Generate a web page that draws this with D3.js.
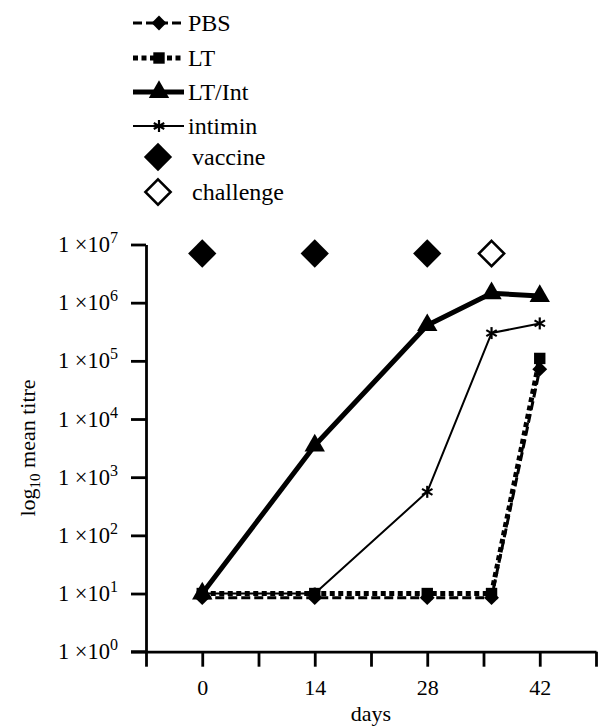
<!DOCTYPE html>
<html><head><meta charset="utf-8">
<script src="https://cdn.jsdelivr.net/npm/d3@7"></script>
<style>body{margin:0;background:#fff}svg{display:block}svg text{font-family:"Liberation Serif","DejaVu Serif",serif !important;fill:#000}</style>
</head><body>
<svg id="c" width="598" height="727"></svg>
<script>
const days = [0, 14, 28, 36, 42];
const pbs = [8.5, 8.5, 8.5, 8.5, 7.2e4];
const lt = [10, 10, 10, 10, 1.1e5];
const ltInt = [10, 3.5e3, 4.1e5, 1.45e6, 1.3e6];
const intimin = [10, 10, 560, 3.0e5, 4.4e5];
const vaccineDays = [0, 14, 28];
const challengeDays = [36];
const eventLevel = 7e6;
const xTicks = [-7, 0, 7, 14, 21, 28, 35, 42, 49];
const xTickLabels = ["", "0", "", "14", "", "28", "", "42", ""];
const yTicks = [1, 10, 100, 1e3, 1e4, 1e5, 1e6, 1e7];
const legendNames = ["PBS", "LT", "LT/Int", "intimin", "vaccine", "challenge"];

const FONT = "Liberation Serif";
const svg = d3.select("#c");
const x = d3.scaleLinear().domain([-7, 49]).range([146, 596]);
const y = d3.scaleLog().domain([1, 1e7]).range([651.7, 244.5]);

const diamondType = { draw(ctx, size) { const r = Math.sqrt(size / 2);
  ctx.moveTo(0, -r); ctx.lineTo(r, 0); ctx.lineTo(0, r); ctx.lineTo(-r, 0); ctx.closePath(); } };

// axes
const xAxis = svg.append("g").attr("transform", "translate(0,651.7)")
  .call(d3.axisBottom(x).tickValues(xTicks).tickSize(15).tickSizeOuter(0).tickFormat((d,i)=>xTickLabels[i]));
const yAxis = svg.append("g").attr("transform", "translate(146,0)")
  .call(d3.axisLeft(y).tickValues(yTicks).tickSize(15).tickSizeOuter(0).tickFormat(""));
[xAxis, yAxis].forEach(a => {
  a.attr("font-family", FONT);
  a.select(".domain").attr("stroke", "#000").attr("stroke-width", 2.8);
  a.selectAll(".tick line").attr("stroke", "#000").attr("stroke-width", 2.8);
});
xAxis.selectAll(".tick text").attr("font-size", 22).attr("y", 0).attr("dy", 43).attr("fill","#000");
svg.append("line").attr("x1", 131).attr("x2", 146).attr("y1", y(1)).attr("y2", y(1)).attr("stroke","#000").attr("stroke-width",2.8);

// y tick labels with superscripts
yTicks.forEach(v => {
  const t = svg.append("text").attr("x", 118).attr("y", y(v) + 7.5).attr("text-anchor", "end")
    .attr("font-size", 22.5).attr("font-family", FONT);
  t.append("tspan").text("1 \u00d710");
  t.append("tspan").attr("font-size", 16).attr("dy", -9).text(Math.round(Math.log10(v)));
});

// axis titles
svg.append("text").attr("x", x(21)).attr("y", 721).attr("text-anchor", "middle").attr("font-size", 22)
  .attr("font-family", FONT).text("days");
const yt = svg.append("text").attr("transform", "translate(35,448) rotate(-90)").attr("text-anchor", "middle")
  .attr("font-size", 22).attr("font-family", FONT);
yt.append("tspan").text("log");
yt.append("tspan").attr("font-size", 15).attr("dy", 5).text("10");
yt.append("tspan").attr("dy", -5).text(" mean titre");

const line = d3.line().x(d => x(d[0])).y(d => y(d[1]));
const series = [
  {name: "LT/Int", vals: ltInt, w: 5, dash: null, sym: d3.symbolTriangle, size: 180},
  {name: "intimin", vals: intimin, w: 2, dash: null, sym: "asterisk", size: 12},
  {name: "PBS", vals: pbs, w: 3, dash: "9,4", sym: diamondType, size: 110},
  {name: "LT", vals: lt, w: 5, dash: "5,3.5", sym: d3.symbolSquare, size: 130}
];
series.forEach(s => {
  svg.append("path").datum(days.map((d,i)=>[d, s.vals[i]])).attr("d", line)
    .attr("fill","none").attr("stroke","#000").attr("stroke-width", s.w)
    .attr("stroke-dasharray", s.dash).attr("stroke-linejoin","round");
});
function drawMarker(g, s, cx, cy) {
  if (s.sym === "asterisk") {
    const r = s.size/2;
    const p = [[0,-r,0,r],[-r*0.87,-r*0.5,r*0.87,r*0.5],[-r*0.87,r*0.5,r*0.87,-r*0.5]];
    p.forEach(q => g.append("line").attr("x1",cx+q[0]).attr("y1",cy+q[1]).attr("x2",cx+q[2]).attr("y2",cy+q[3])
      .attr("stroke","#000").attr("stroke-width",2.2));
  } else {
    g.append("path").attr("d", d3.symbol().type(s.sym).size(s.size)()).attr("transform", `translate(${cx},${cy})`).attr("fill","#000");
  }
}
const mg = svg.append("g");
series.forEach(s => days.forEach((d,i) => drawMarker(mg, s, x(d), y(s.vals[i]))));

// event markers
const bigDiamond = d3.symbol().type(diamondType).size(400)();
vaccineDays.forEach(d => svg.append("path").attr("d", bigDiamond).attr("transform", `translate(${x(d)},${y(eventLevel)})`).attr("fill","#000"));
challengeDays.forEach(d => svg.append("path").attr("d", d3.symbol().type(diamondType).size(320)()).attr("transform", `translate(${x(d)},${y(eventLevel)})`)
  .attr("fill","#fff").attr("stroke","#000").attr("stroke-width",2.5));

// legend
const legY = [23, 58, 92, 126, 157, 192];
const leg = svg.append("g").attr("font-family", FONT);
const legSeries = [series[2], series[3], series[0], series[1]];
legSeries.forEach((s, i) => {
  leg.append("line").attr("x1", 133).attr("x2", 184).attr("y1", legY[i]).attr("y2", legY[i])
    .attr("stroke","#000").attr("stroke-width", s.w).attr("stroke-dasharray", s.dash);
  drawMarker(leg, s, 159, legY[i]);
  leg.append("text").attr("x", 188).attr("y", legY[i] + 8).attr("font-size", 24).text(legendNames[i]);
});
leg.append("path").attr("d", d3.symbol().type(diamondType).size(400)()).attr("transform", `translate(158,${legY[4]})`).attr("fill","#000");
leg.append("text").attr("x", 192).attr("y", legY[4] + 8).attr("font-size", 24).text(legendNames[4]);
leg.append("path").attr("d", d3.symbol().type(diamondType).size(320)()).attr("transform", `translate(158,${legY[5]})`)
  .attr("fill","#fff").attr("stroke","#000").attr("stroke-width",2.5);
leg.append("text").attr("x", 192).attr("y", legY[5] + 8).attr("font-size", 24).text(legendNames[5]);
</script>
</body></html>
